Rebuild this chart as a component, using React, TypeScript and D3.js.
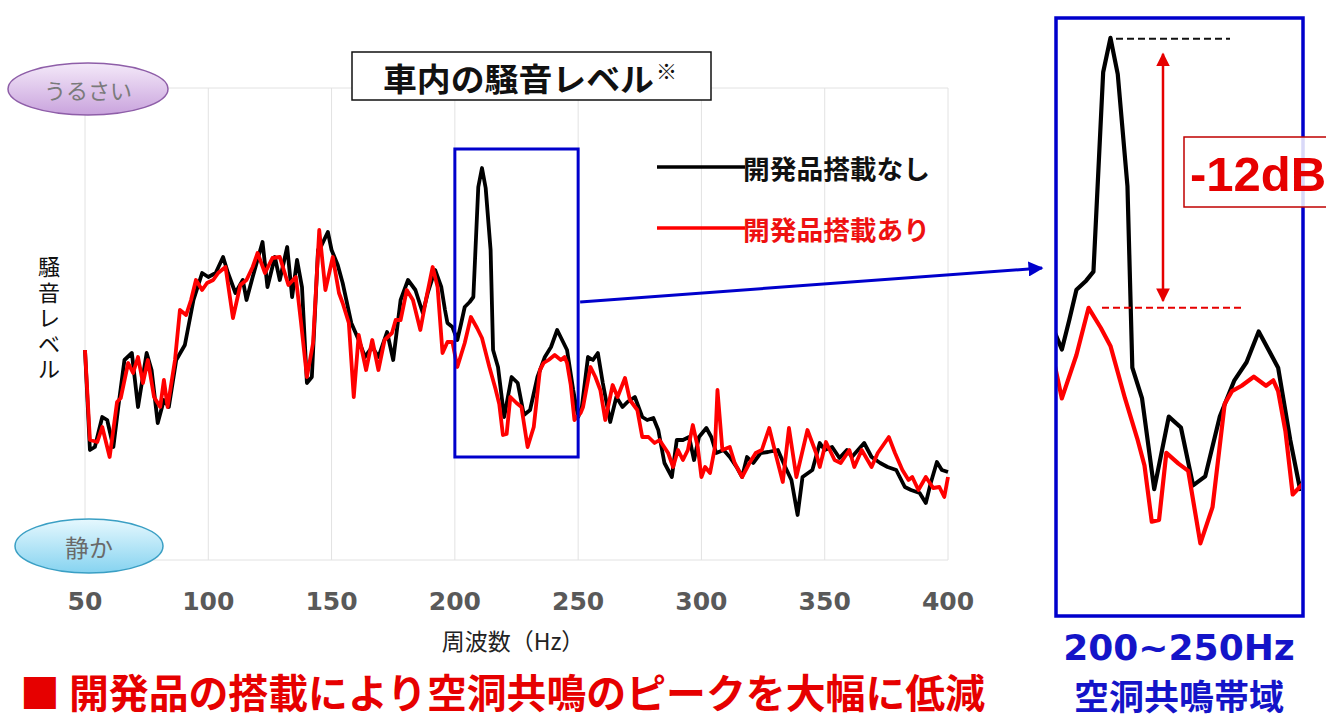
import React from "react";
import * as d3 from "d3";

// x ticks (Hz)
const xTicks = [50, 100, 150, 200, 250, 300, 350, 400];

// 開発品搭載なし : [Hz, level]
const withoutDevice: [number, number][] = [
    [50, 42], [52, 22], [54, 22.6], [57, 28.6], [59, 28], [61.5, 22.6], [63.5, 30.6],
    [66, 40], [69, 41.4], [71.5, 30.6], [75, 41.4], [77, 38], [79.5, 27.4], [82, 32],
    [84, 30.6], [87, 40], [90.5, 43], [94, 52], [97.5, 57.4], [100, 56.6], [103, 57.4],
    [106, 60.6], [108, 57.4], [111, 53.4], [114, 56], [115.5, 52], [118, 56.6],
    [122, 63.6], [124, 54.6], [127, 60.6], [129, 56], [132, 62.6], [134, 52.6],
    [136, 60], [138, 54.6], [140, 35.4], [142, 36.6], [144.5, 62], [146, 63],
    [148.5, 65.6], [150, 62], [152.5, 59], [154.5, 55.4], [158, 47.4], [161, 44],
    [163.5, 40.6], [166.5, 42.6], [169, 40.6], [172.5, 45.6], [175, 40], [178, 52],
    [181, 56], [184, 54], [187, 49.4], [189, 53.4], [192, 58], [194.5, 54.6], [196, 50],
    [197, 47.4], [199, 46.6], [201, 44], [202.5, 47.2], [204, 50.6], [206, 51.6], [207.5, 52.6],
    [209.5, 74.6], [211, 78.4], [212.5, 74.4], [214.5, 62], [215.5, 42], [217.5, 38.6],
    [220, 28.6], [223, 36.6], [225.5, 35.4], [228, 29], [230.5, 30], [233.5, 36.6],
    [236.5, 40.6], [239, 42.6], [241.5, 46], [245.5, 42], [248, 34], [250, 28.6],
    [251.5, 30.6], [254, 40.6], [256, 40], [258, 41.4], [260, 35.4], [263, 27.6],
    [265.5, 32.6], [268, 30.6], [270, 31.6], [273, 32.6], [276, 28.6], [278, 28],
    [280.5, 28.4], [282.5, 26], [285, 19.4], [288, 16.6], [290, 24], [292.5, 24],
    [295, 24.6], [297, 20], [299, 24.6], [302, 26.4], [304, 24.6], [306, 21.4],
    [309, 22], [311.5, 20.6], [314.5, 18.4], [316.5, 16.6], [318.5, 20.6], [321, 19.4],
    [324, 21.4], [327, 21.6], [331, 22], [334, 18.6], [336.5, 16], [339, 9],
    [341, 16.6], [345, 18], [348, 23.4], [350, 22], [353, 22.6], [356, 20.4], [359, 22],
    [361, 20.6], [363.5, 22], [366, 23.4], [369, 20.6], [372.5, 19.4], [375.5, 18.6],
    [379, 18], [382.5, 14.6], [385, 14], [388.5, 13.4], [391, 11.4], [393, 15.4],
    [395.5, 19.6], [397.5, 18], [400, 17.6],
];

// 開発品搭載あり : [Hz, level]
const withDevice: [number, number][] = [
    [50, 42], [52, 24], [55, 23.6], [57, 26.6], [60, 20.6], [63, 31.6], [64.5, 32.4],
    [67.5, 39.4], [69.5, 37.4], [71.5, 40.6], [73.5, 35.4], [75.5, 40], [78, 32.6],
    [80.5, 30.6], [82, 36], [83.5, 30.6], [86.5, 40], [88.5, 50], [91, 49], [93, 52],
    [95, 56], [97.5, 54], [99.5, 55.4], [102, 56], [104, 57.4], [107, 58.6],
    [110, 48.4], [113, 55], [115.5, 56], [118, 58.6], [120, 61.4], [123, 57.4],
    [126, 60.4], [129, 60.6], [132.5, 55], [135.5, 56.6], [137.5, 48], [140, 36.6],
    [142.5, 43.4], [145, 66], [147.5, 54], [150.5, 60.6], [153, 53.4], [154.5, 51.4],
    [157, 47.4], [159, 32.6], [161, 45], [164, 38], [166.5, 44], [169, 38],
    [171.5, 44], [174.5, 45.4], [176, 48], [178, 48], [180.5, 54], [183, 52],
    [186, 46], [188.5, 52.6], [191, 58.6], [193, 54.6], [195, 41.4], [197, 43.6],
    [199, 43.6], [201, 38.6], [204, 43.4], [206.5, 48.6], [209, 46.4], [211, 44.4],
    [214, 38.6], [216.5, 34.2], [218, 31.2], [219.5, 25], [221, 25.2], [222.5, 32.6], [225, 31.4],
    [227, 30.6], [229.5, 22.6], [232, 26.6], [234.5, 38], [236, 39.4], [238, 40], [240.5, 41],
    [243, 40], [244.5, 40.6], [245.5, 39.4], [247, 35], [248.5, 28], [251, 29.4], [252, 30.6], [255, 38.6],
    [257, 36.6], [259, 34], [261, 28], [264, 35], [266, 32.6], [269, 36.4], [271, 32],
    [274, 30], [276, 24.6], [278.5, 24.6], [281, 23.4], [283, 24], [286.5, 21.4],
    [288.5, 18.6], [290.5, 22], [292.5, 20], [294.5, 22], [296.5, 27], [298.5, 22.6],
    [300, 16.6], [301.5, 18.6], [303.5, 17.4], [305.5, 22.6], [306.5, 34], [308.5, 22],
    [311.5, 22.6], [313.5, 19.4], [316.5, 16.6], [319.5, 19.4], [322, 21.4],
    [324.5, 22], [327.5, 26.4], [330, 21.4], [333, 15.6], [335.5, 26.4], [338.5, 16.6],
    [343, 26], [346.5, 21.4], [348, 18.6], [350.5, 23.6], [354, 20], [356.5, 19.4],
    [360, 22], [362, 18.6], [365, 22], [369, 18.6], [371.5, 21.4], [376, 24.6],
    [378.5, 21.4], [381.5, 18], [384, 16], [385.5, 16.6], [388, 14], [391, 16.6],
    [394, 14.4], [396.5, 14.6], [398.5, 12.6], [400, 16.6],
];

// zoomed band (Hz) and the level span of the highlight box
const band = [200, 250];
const bandBox = [20.6, 82.2];

const legendLabels = ["開発品搭載なし", "開発品搭載あり"];
const seriesColors = ["#000000", "#ff0000"];

const JP = "'Noto Sans CJK JP', 'Noto Sans', sans-serif";
const NUM = "'DejaVu Sans', Verdana, sans-serif";

export default function App() {
    const width = 1326;
    const height = 716;

    const x = d3.scaleLinear().domain([50, 400]).range([85, 948]);
    const y = d3.scaleLinear().domain([0, 94.4]).range([560, 88]);

    // inset scales
    const xi = d3.scaleLinear().domain(band).range([1057, 1300]);
    const yi = d3.scaleLinear().domain([14.7, 80.7]).range([615, 17]);

    const line = d3.line<[number, number]>().x((d) => x(d[0])).y((d) => y(d[1]));
    const lineI = d3.line<[number, number]>().x((d) => xi(d[0])).y((d) => yi(d[1]));

    const inBand = (s: [number, number][]) => s.filter((d) => d[0] >= band[0] - 2 && d[0] <= band[1] + 2);
    const inside = (s: [number, number][]) => s.filter((d) => d[0] >= band[0] && d[0] <= band[1]);
    const peakOff = d3.max(inside(withoutDevice), (d) => d[1]) ?? 0;
    const peakOn = d3.max(inside(withDevice), (d) => d[1]) ?? 0;

    const series = [withoutDevice, withDevice];
    const yLabel = ["騒", "音", "レ", "ベ", "ル"];

    return (
        <svg width={width} height={height} style={{ position: "absolute", left: 0, top: 0, background: "#fff" }}>
            <defs>
                <linearGradient id="gPurple" x1="0" y1="0" x2="0" y2="1">
                    <stop offset="0" stopColor="#f4e9f9" />
                    <stop offset="1" stopColor="#c9a3dd" />
                </linearGradient>
                <linearGradient id="gCyan" x1="0" y1="0" x2="0" y2="1">
                    <stop offset="0" stopColor="#e6f8fe" />
                    <stop offset="1" stopColor="#86d3f0" />
                </linearGradient>
                <clipPath id="insetClip">
                    <rect x={1057} y={19} width={244} height={596} />
                </clipPath>
                <marker id="blueHead" viewBox="0 0 10 10" refX="9" refY="5" markerWidth="5" markerHeight="5" orient="auto">
                    <path d="M0,0 L10,5 L0,10 z" fill="#0000cc" />
                </marker>
                <marker id="redHead" viewBox="0 0 10 10" refX="9" refY="5" markerWidth="5.5" markerHeight="5.5" orient="auto-start-reverse">
                    <path d="M0,0 L10,5 L0,10 z" fill="#e60000" />
                </marker>
            </defs>

            {/* grid */}
            {xTicks.map((t) => (
                <line key={t} x1={x(t)} x2={x(t)} y1={y(94.4)} y2={y(0)} stroke="#e2e2e2" strokeWidth={1} />
            ))}
            <line x1={x(50)} x2={x(400)} y1={y(94.4)} y2={y(94.4)} stroke="#e2e2e2" />
            <line x1={x(50)} x2={x(400)} y1={y(0)} y2={y(0)} stroke="#e2e2e2" />

            {/* x tick labels */}
            {xTicks.map((t) => (
                <text key={t} x={x(t)} y={601} textAnchor="middle" dominantBaseline="central"
                    fontFamily={NUM} fontWeight="bold" fontSize={25} fill="#595959">{t}</text>
            ))}
            <text x={513} y={640} textAnchor="middle" dominantBaseline="central" fontFamily={JP} fontSize={23} fill="#222">
                周波数（Hz）
            </text>

            {/* y label */}
            {yLabel.map((c, i) => (
                <text key={i} x={49} y={265 + i * 25.5} textAnchor="middle" dominantBaseline="central"
                    fontFamily={JP} fontSize={22} fill="#111">{c}</text>
            ))}

            {/* series */}
            {series.map((s, i) => (
                <path key={i} d={line(s) ?? ""} fill="none" stroke={seriesColors[i]} strokeWidth={3.8} strokeLinejoin="round" />
            ))}

            {/* title */}
            <rect x={352} y={52} width={359} height={48} fill="#fff" stroke="#111" strokeWidth={1.5} />
            <text x={383} y={77} dominantBaseline="central" fontFamily={JP} fontWeight="bold" fontSize={32} fill="#111"
                textLength={271} lengthAdjust="spacingAndGlyphs">車内の騒音レベル</text>
            <text x={656} y={70} dominantBaseline="central" fontFamily={JP} fontWeight="bold" fontSize={21} fill="#111">※</text>

            {/* うるさい / 静か */}
            <ellipse cx={88} cy={89} rx={80} ry={26} fill="url(#gPurple)" stroke="#8e5ea8" strokeWidth={1.5} />
            <text x={88} y={89} textAnchor="middle" dominantBaseline="central" fontFamily={JP} fontSize={22} fill="#7a7a7a">うるさい</text>
            <ellipse cx={89} cy={546} rx={74} ry={27} fill="url(#gCyan)" stroke="#3a9fc4" strokeWidth={1.5} />
            <text x={89} y={546} textAnchor="middle" dominantBaseline="central" fontFamily={JP} fontSize={24} fill="#6a6a6a">静か</text>

            {/* legend */}
            {legendLabels.map((l, i) => (
                <g key={l}>
                    <line x1={657} x2={745} y1={167 + i * 61} y2={167 + i * 61} stroke={seriesColors[i]} strokeWidth={3.5} />
                    <text x={743} y={167 + i * 61} dominantBaseline="central" fontFamily={JP} fontWeight="bold" fontSize={26}
                        fill={i === 0 ? "#111" : "#ee1111"} textLength={187} lengthAdjust="spacingAndGlyphs">{l}</text>
                </g>
            ))}

            {/* highlight box + connector */}
            <rect x={x(band[0])} y={y(bandBox[1])} width={x(band[1]) - x(band[0])} height={y(bandBox[0]) - y(bandBox[1])}
                fill="none" stroke="#0000cc" strokeWidth={3} />
            <line x1={x(band[1]) + 2} y1={302} x2={1042} y2={268} stroke="#0000cc" strokeWidth={3} markerEnd="url(#blueHead)" />

            {/* inset */}
            <g clipPath="url(#insetClip)">
                {series.map((s, i) => (
                    <path key={i} d={lineI(inBand(s)) ?? ""} fill="none" stroke={seriesColors[i]} strokeWidth={4.2} strokeLinejoin="round" />
                ))}
            </g>
            <rect x={1056} y={18} width={247} height={598} fill="none" stroke="#0000cc" strokeWidth={3.5} />

            <line x1={1116} x2={1230} y1={yi(peakOff) + 1} y2={yi(peakOff) + 1} stroke="#111" strokeWidth={2} strokeDasharray="7,4" />
            <line x1={1102} x2={1242} y1={yi(peakOn)} y2={yi(peakOn)} stroke="#e60000" strokeWidth={2} strokeDasharray="7,4" />
            <line x1={1163} x2={1163} y1={yi(peakOff) + 16} y2={yi(peakOn) - 7} stroke="#e60000" strokeWidth={2.5}
                markerStart="url(#redHead)" markerEnd="url(#redHead)" />

            <rect x={1184} y={137} width={150} height={70} fill="#fff" fillOpacity={0.85} stroke="#c00000" strokeWidth={1.5} />
            <text x={1190} y={174} dominantBaseline="central" fontFamily="'Liberation Sans', Arial, sans-serif"
                fontWeight="bold" fontSize={49} fill="#e60000">-12dB</text>

            <text x={1179} y={647} textAnchor="middle" dominantBaseline="central" fontFamily={NUM} fontWeight="bold"
                fontSize={36} fill="#1414c8">200~250Hz</text>
            <text x={1179} y={694} textAnchor="middle" dominantBaseline="central" fontFamily={JP} fontWeight="bold"
                fontSize={35} fill="#1414c8">空洞共鳴帯域</text>

            {/* bottom message */}
            <text x={20} y={691} dominantBaseline="central" fontFamily={JP} fontWeight="bold" fontSize={40} fill="#e60000"
                textLength={965} lengthAdjust="spacingAndGlyphs">■ 開発品の搭載により空洞共鳴のピークを大幅に低減</text>
        </svg>
    );
}
